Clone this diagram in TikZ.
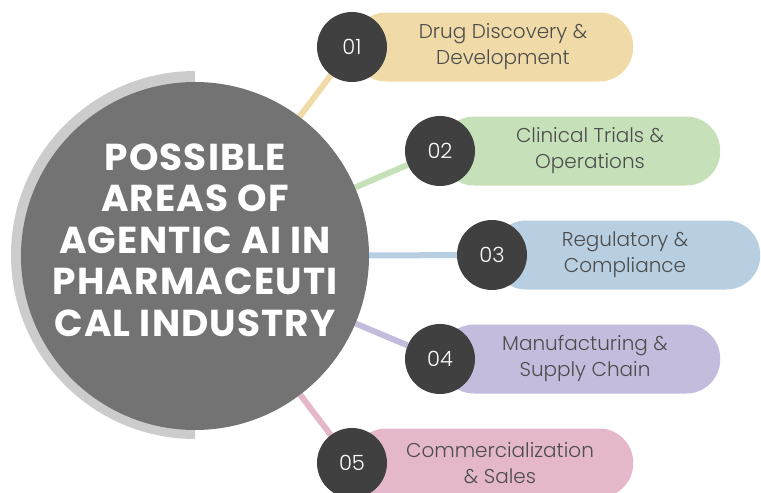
\documentclass[tikz,border=0pt]{standalone}
\usepackage{fontspec}
\setmainfont{Poppins}
\newfontfamily\lightfont{Poppins Light}
\usetikzlibrary{backgrounds}
\definecolor{hubgray}{HTML}{737373}
\definecolor{ringgray}{HTML}{CCCCCC}
\definecolor{numgray}{HTML}{404040}
\definecolor{txtgray}{HTML}{4D4D4D}
\definecolor{c1}{HTML}{F0DBA8}
\definecolor{c2}{HTML}{C6E1BA}
\definecolor{c3}{HTML}{B8CFE2}
\definecolor{c4}{HTML}{C4BCDD}
\definecolor{c5}{HTML}{E4B7CB}
\begin{document}
\begin{tikzpicture}[x=1pt,y=1pt,
  hub node/.style={circle,fill=hubgray,minimum size=348pt,inner sep=0pt},
  title node/.style={text=white,align=center,font=\bfseries\fontsize{37.5}{41.5}\selectfont\addfontfeatures{LetterSpace=3}},
  pill node/.style={rounded corners=34pt,minimum height=69pt,anchor=west,inner sep=0pt},
  num node/.style={circle,fill=numgray,minimum size=70pt,inner sep=0pt,text=white,font=\lightfont\fontsize{21}{21}\selectfont},
  label node/.style={text=txtgray,align=center,font=\lightfont\fontsize{20}{26}\selectfont},
  link/.style={line width=6pt}]
  \useasboundingbox (0,0) rectangle (761,-493);
  \clip (0,0) rectangle (761,-493);

  \node[hub node] (0) at (195,-256) {};
  \node[title node] (t) at (195,-240) {POSSIBLE\\AREAS OF\\AGENTIC AI IN\\PHARMACEUTI\\CAL INDUSTRY};

  \node[pill node,fill=c1,minimum width=281pt] (p1) at (352,-47) {};
  \node[pill node,fill=c2,minimum width=280pt] (p2) at (440,-151) {};
  \node[pill node,fill=c3,minimum width=268pt] (p3) at (492,-255) {};
  \node[pill node,fill=c4,minimum width=280pt] (p4) at (440,-359) {};
  \node[pill node,fill=c5,minimum width=281pt] (p5) at (352,-463) {};

  \node[num node] (1) at (p1.west) {01};
  \node[num node] (2) at (p2.west) {02};
  \node[num node] (3) at (p3.west) {03};
  \node[num node] (4) at (p4.west) {04};
  \node[num node] (5) at (p5.west) {05};

  \node[label node] (l1) at (503,-47) {Drug Discovery \&\\Development};
  \node[label node] (l2) at (590,-151) {Clinical Trials \&\\Operations};
  \node[label node] (l3) at (625,-255) {Regulatory \&\\Compliance};
  \node[label node] (l4) at (585,-359) {Manufacturing \&\\Supply Chain};
  \node[label node] (l5) at (500,-463) {Commercialization\\\& Sales};

  \begin{pgfonlayer}{background}
    \fill[ringgray] (195,-71) arc (90:270:184) -- cycle;
    \path[link]
      (0) edge[c1] (1)
      (0) edge[c2] (2)
      (0) edge[c3] (3)
      (0) edge[c4] (4)
      (0) edge[c5] (5);
  \end{pgfonlayer}
\end{tikzpicture}
\end{document}
